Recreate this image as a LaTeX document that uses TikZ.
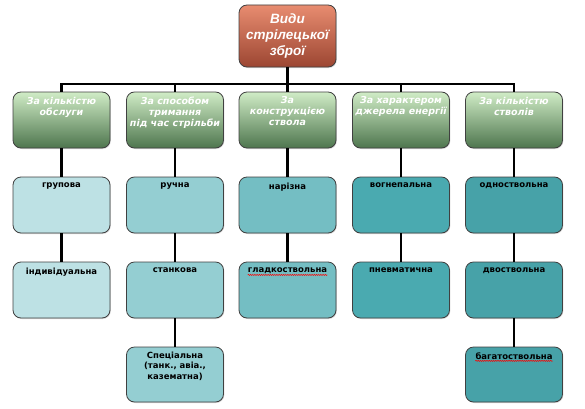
\documentclass[tikz,border=0pt]{standalone}
\usepackage{fontspec}
\setmainfont{DejaVu Sans}
\newfontfamily\titlefont{Liberation Sans}
\usetikzlibrary{positioning, shadows, decorations.pathmorphing}

\definecolor{rootTop}{RGB}{232,140,112}
\definecolor{rootBottom}{RGB}{156,70,50}
\definecolor{kindTop}{RGB}{208,236,198}
\definecolor{kindBottom}{RGB}{78,118,78}
\definecolor{leafA}{RGB}{189,225,228}
\definecolor{leafB}{RGB}{148,206,210}
\definecolor{leafC}{RGB}{116,190,195}
\definecolor{leafD}{RGB}{74,170,176}
\definecolor{leafE}{RGB}{71,162,168}

\begin{document}
\begin{tikzpicture}[
		x=1pt, y=1pt,
		% Box styles
		box/.style={draw=black!75, line width=0.8pt, rounded corners=8pt, minimum width=97pt, minimum height=56pt, inner sep=0pt,
			drop shadow={shadow xshift=0.8pt, shadow yshift=-1pt, opacity=0.3}},
		rootBox/.style={box, minimum height=62pt, top color=rootTop, bottom color=rootBottom, text=white, align=center,
			font=\titlefont\fontsize{13.5}{16}\selectfont\bfseries\itshape},
		kindBox/.style={box, top color=kindTop, bottom color=kindBottom},
		leafBox/.style={box, fill=#1},
		% Text styles
		kindText/.style={anchor=north, inner sep=0pt, align=center, text=white, font=\fontsize{9.5}{11}\selectfont\bfseries\itshape},
		leafText/.style={anchor=north, inner sep=0pt, align=center, font=\fontsize{8.5}{10.5}\selectfont\bfseries},
		% Line styles
		link/.style={line width=2.5pt, black},
		spell/.style={red, line width=0.5pt, decorate, decoration={snake, amplitude=0.6pt, segment length=2.2pt}}
		]
		
		\useasboundingbox (0,0) rectangle (585,408);
		
		% =========================================================
		% ROOT
		% =========================================================
		\node[rootBox] (root) at (287.5, 372) {Види\\стрілецької\\зброї};
		\coordinate (bus) at (287.5, 324);
		
		% =========================================================
		% KINDS
		% =========================================================
		\node[kindBox] (k1) at (61.5, 288) {};
		\node[kindBox] (k2) at (175, 288) {};
		\node[kindBox] (k3) at (287.5, 288) {};
		\node[kindBox] (k4) at (401, 288) {};
		\node[kindBox] (k5) at (514, 288) {};
		
		\node[kindText] (k1t) at ([yshift=-5pt]k1.north) {За кількістю\\обслуги};
		\node[kindText] (k2t) at ([yshift=-5pt]k2.north) {За способом\\тримання\\під час стрільби};
		\node[kindText] (k3t) at ([yshift=-5pt]k3.north) {За\\конструкцією\\ствола};
		\node[kindText] (k4t) at ([yshift=-5pt]k4.north) {За характером\\джерела енергії};
		\node[kindText] (k5t) at ([yshift=-5pt]k5.north) {За кількістю\\стволів};
		
		% Root to kinds
		\draw[link] (root) -- (bus);
		\draw[link] (k1) |- (bus);
		\draw[link] (k2) |- (bus);
		\draw[link] (k3) |- (bus);
		\draw[link] (k4) |- (bus);
		\draw[link] (k5) |- (bus);
		
		% =========================================================
		% LEAVES
		% =========================================================
		\node[leafBox=leafA] (l11) at (61.5, 203) {};
		\node[leafBox=leafA] (l12) at (61.5, 118) {};
		
		\node[leafBox=leafB] (l21) at (175, 203) {};
		\node[leafBox=leafB] (l22) at (175, 118) {};
		\node[leafBox=leafB, minimum height=55pt] (l23) at (175, 33.5) {};
		
		\node[leafBox=leafC] (l31) at (287.5, 203) {};
		\node[leafBox=leafC] (l32) at (287.5, 118) {};
		
		\node[leafBox=leafD] (l41) at (401, 203) {};
		\node[leafBox=leafD] (l42) at (401, 118) {};
		
		\node[leafBox=leafE] (l51) at (514, 203) {};
		\node[leafBox=leafE] (l52) at (514, 118) {};
		\node[leafBox=leafE, minimum height=55pt] (l53) at (514, 33.5) {};
		
		\node[leafText] (l11t) at ([yshift=-6pt]l11.north) {групова};
		\node[leafText] (l12t) at ([yshift=-6pt]l12.north) {індивідуальна};
		\node[leafText] (l21t) at ([yshift=-6pt]l21.north) {ручна};
		\node[leafText] (l22t) at ([yshift=-6pt]l22.north) {станкова};
		\node[leafText] (l23t) at ([yshift=-5pt]l23.north) {Спеціальна\\(танк., авіа.,\\казематна)};
		\node[leafText] (l31t) at ([yshift=-6pt]l31.north) {нарізна};
		\node[leafText] (l32t) at ([yshift=-6pt]l32.north) {гладкоствольна};
		\node[leafText] (l41t) at ([yshift=-6pt]l41.north) {вогнепальна};
		\node[leafText] (l42t) at ([yshift=-6pt]l42.north) {пневматична};
		\node[leafText] (l51t) at ([yshift=-6pt]l51.north) {одноствольна};
		\node[leafText] (l52t) at ([yshift=-6pt]l52.north) {двоствольна};
		\node[leafText] (l53t) at ([yshift=-6pt]l53.north) {багатоствольна};
		
		% Spelling marks
		\draw[spell] ([yshift=-1pt]l32t.south west) -- ([yshift=-1pt]l32t.south east);
		\draw[spell] ([yshift=-1pt]l53t.south west) -- ([yshift=-1pt]l53t.south east);
		
		% Kinds to leaves
		\draw[link] (k1) -- (l11);
		\draw[link] (l11) -- (l12);
		\draw[link] (k2) -- (l21);
		\draw[link] (l21) -- (l22);
		\draw[link] (l22) -- (l23);
		\draw[link] (k3) -- (l31);
		\draw[link] (l31) -- (l32);
		\draw[link] (k4) -- (l41);
		\draw[link] (l41) -- (l42);
		\draw[link] (k5) -- (l51);
		\draw[link] (l51) -- (l52);
		\draw[link] (l52) -- (l53);
		
	\end{tikzpicture}
\end{document}
